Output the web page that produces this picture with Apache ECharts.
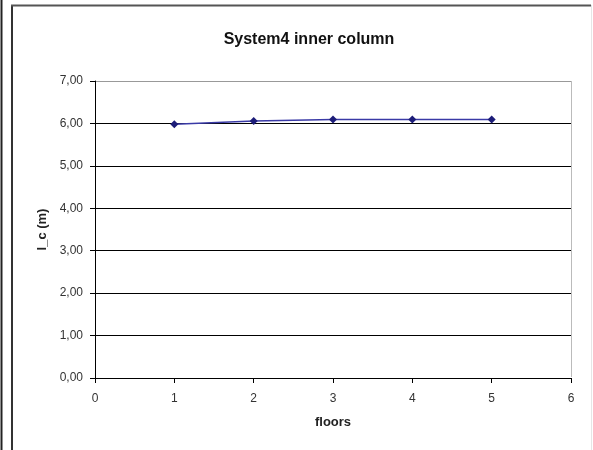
<!DOCTYPE html>
<html>
<head>
<meta charset="utf-8">
<script src="https://cdn.jsdelivr.net/npm/echarts@6/dist/echarts.min.js"></script>
<style>html,body{margin:0;padding:0;background:#fff;}#c{width:593px;height:450px;}</style>
</head>
<body>
<div id="c"></div>
<script>
const floors = [1, 2, 3, 4, 5];
const lcValues = [5.98, 6.06, 6.09, 6.09, 6.09];
const titleText = 'System4 inner column';
const xName = 'floors';
const yName = 'l_c (m)';

const chart = echarts.init(document.getElementById('c'), null, {renderer: 'canvas'});
const font = 'Liberation Sans, Arial, sans-serif';
chart.setOption({
  animation: false,
  backgroundColor: '#fff',
  title: {
    text: titleText, left: 304, top: 27, textAlign: 'center',
    textStyle: {fontFamily: font, fontSize: 16, fontWeight: 'bold', color: '#111'}
  },
  grid: {left: 95, right: 22, top: 81, bottom: 72, show: true, borderColor: 'transparent', backgroundColor: 'transparent'},
  xAxis: {
    type: 'value', min: 0, max: 6, interval: 1,
    name: xName, nameLocation: 'middle', nameGap: 38,
    nameTextStyle: {fontFamily: font, fontSize: 13, fontWeight: 'bold', color: '#222'},
    axisLine: {lineStyle: {color: '#000', width: 1}},
    axisTick: {show: true, length: 5, lineStyle: {color: '#000'}},
    axisLabel: {fontFamily: font, fontSize: 12, color: '#333', margin: 15},
    splitLine: {show: false}
  },
  yAxis: {
    type: 'value', min: 0, max: 7, interval: 1,
    name: yName, nameLocation: 'middle', nameGap: 43, nameRotate: 90,
    nameTextStyle: {fontFamily: font, fontSize: 13, fontWeight: 'bold', color: '#222'},
    axisLine: {show: true, lineStyle: {color: '#000', width: 1}},
    axisTick: {show: true, length: 5, lineStyle: {color: '#000'}},
    axisLabel: {fontFamily: font, fontSize: 12, color: '#333', margin: 12,
      formatter: v => v.toFixed(2).replace('.', ',')},
    splitLine: {show: true, lineStyle: {color: '#000', width: 1}}
  },
  series: [{
    type: 'line',
    data: floors.map((f, i) => [f, lcValues[i]]),
    symbol: 'diamond', symbolSize: 8,
    itemStyle: {color: '#1c1c78'},
    lineStyle: {color: '#3a3aa6', width: 1.5},
    z: 5
  }],
  graphic: [
    {type: 'line', z: 100, shape: {x1: 1.5, y1: 0, x2: 1.5, y2: 450}, style: {stroke: '#222', lineWidth: 2}},
    {type: 'line', z: 100, shape: {x1: 12, y1: 5.5, x2: 12, y2: 450}, style: {stroke: '#333', lineWidth: 2}},
    {type: 'line', z: 100, shape: {x1: 11, y1: 5.5, x2: 591, y2: 5.5}, style: {stroke: '#555', lineWidth: 2}},
    {type: 'line', z: 100, shape: {x1: 591.5, y1: 5, x2: 591.5, y2: 450}, style: {stroke: '#e6e6e6', lineWidth: 1}},
    {type: 'line', z: 100, shape: {x1: 96, y1: 81.5, x2: 571, y2: 81.5}, style: {stroke: '#999', lineWidth: 1}},
    {type: 'line', z: 100, shape: {x1: 571.5, y1: 81, x2: 571.5, y2: 377}, style: {stroke: '#bbb', lineWidth: 1}}
  ]
});
</script>
</body>
</html>
